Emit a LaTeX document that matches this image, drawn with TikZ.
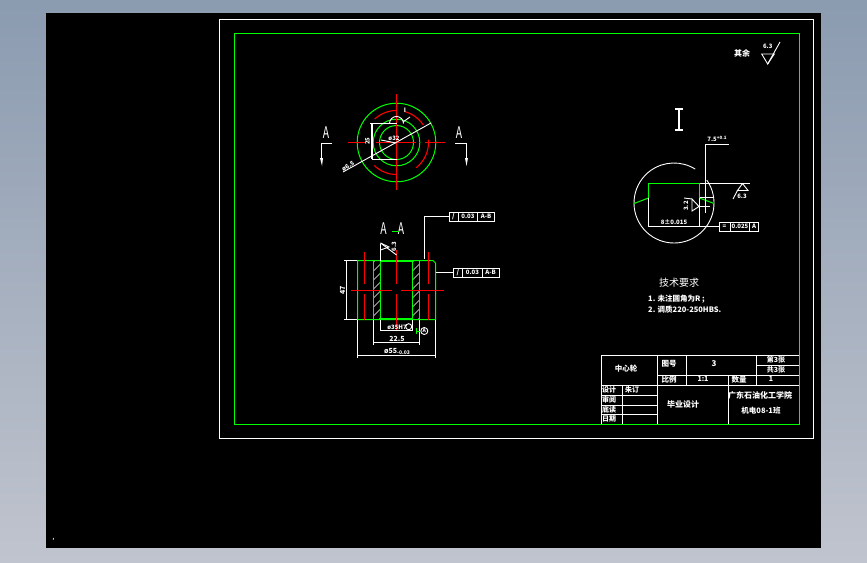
\documentclass[tikz,border=0pt]{standalone}
\usepackage{fontspec}
\setmainfont{Liberation Sans}
\newfontfamily\cjk{Noto Sans CJK SC}
\usetikzlibrary{positioning}
\definecolor{cadgreen}{RGB}{0,255,0}
\definecolor{cadred}{RGB}{255,0,0}
\definecolor{wintop}{RGB}{139,155,176}
\definecolor{winbot}{RGB}{192,196,206}
\tikzset{
  wline/.style={white,line width=0.9pt},
  gline/.style={cadgreen,line width=1pt},
  rline/.style={cadred,line width=1.1pt},
  txt/.style={white,inner sep=0pt,font=\cjk\fontsize{#1}{#1}\selectfont},
  txt/.default=8,
  dimtxt/.style={white,inner sep=0pt,font=\cjk\bfseries\fontsize{#1}{#1}\selectfont},
  dimtxt/.default=6,
  secletter/.style={white,inner sep=0pt,xscale=0.65,font=\cjk\fontsize{16}{16}\selectfont},
  fcfbox/.style={draw,wline,fill=black,minimum height=9,inner sep=0pt}
}
\begin{document}
\begin{tikzpicture}[x=1pt,y=-1pt]
  \useasboundingbox (0,0) rectangle (867,562);
  \shade[top color=wintop,bottom color=winbot] (0,0) rectangle (867,562);
  \fill[black] (46,13) rectangle (821,548);
  \draw[white,line width=1pt] (219.5,19.5) rectangle (813.5,438.5);
  \draw[gline] (234.5,33.5) rectangle (799.5,424.5);
  \node[dimtxt=5] (corner) at (53.5,540) {,};

  % top view
  \draw[gline] (396.5,142.5) circle (39.3);
  \draw[gline] (396.5,142.5) circle (23.3);
  \draw[gline] (396.5,142.5) circle (17);
  \draw[rline] (396.5,142.5) ++(134:32) arc (134:90:32);
  \draw[rline] (396.5,142.5) ++(52:32) arc (52:-5:32);
  \draw[rline] (396.5,142.5) ++(-33:32) arc (-33:-75:32);
  \draw[rline] (396.5,142.5) ++(-90:32) arc (-90:-133:32);
  \draw[rline] (396.5,94) -- (396.5,190);
  \draw[rline] (348,142.5) -- (365,142.5);
  \draw[rline] (376,142.5) -- (416,142.5);
  \draw[rline] (425,142.5) -- (445,142.5);
  \draw[wline] (370,123.5) -- (397,123.5) (372,159.5) -- (397,159.5);
  \draw[wline,line width=1.4pt] (372,123) -- (372,159);
  \draw[wline] (396.5,123.5) ++(180:7) arc (180:360:7);
  \draw[wline] (403,122) -- (410,117);
  \draw[wline] (343,172) -- (431,123);
  \draw[wline] (381,140) -- (396,143);
  \node[dimtxt=6] (lblI) at (405,110) {I};
  \node[dimtxt=6,rotate=90] (dimh) at (367.5,141) {25};
  \node[dimtxt=6] (dimd) at (394,138) {ø32};
  \node[dimtxt=6,rotate=30] (dimo) at (348,166) {ø6.5};

  % section arrows
  \node[secletter] (secL) at (326,133) {A};
  \node[secletter] (secR) at (459,133) {A};
  \draw[wline] (332,143.5) -- (321.5,143.5) -- (321.5,160);
  \draw[wline] (455,143.5) -- (466.5,143.5) -- (466.5,160);
  \fill[white] (320,158) -- (323,158) -- (322,166) -- cycle;
  \fill[white] (465,158) -- (468,158) -- (466.5,166) -- cycle;

  % section view
  \node[secletter] (titleL) at (383.5,229) {A};
  \node[secletter] (titleR) at (401,229) {A};
  \draw[gline] (392,231.5) -- (398.5,231.5);
  \begin{scope}
    \clip (373.5,261) rectangle (380.5,319);
    \foreach \y in {262,271,...,334} {
      \draw[white,line width=0.6pt] (373.5,\y) -- (380.5,\y-7);
    }
  \end{scope}
  \begin{scope}
    \clip (412.5,261) rectangle (419.5,319);
    \foreach \y in {262,271,...,334} {
      \draw[white,line width=0.6pt] (412.5,\y) -- (419.5,\y-7);
    }
  \end{scope}
  \draw[gline] (357.5,260.5) -- (433,260.5) -- (435.5,263) -- (435.5,319.5) -- (357.5,319.5) -- cycle;
  \draw[gline] (373.5,261) -- (373.5,319.5) (380.5,261) -- (380.5,319.5);
  \draw[gline] (412.5,261) -- (412.5,319.5) (419.5,261) -- (419.5,319.5);
  \draw[gline,line width=1.8pt] (380.5,261) -- (412.5,261) (380.5,319) -- (412.5,319);
  \draw[rline] (351,290.5) -- (392,290.5) (401,290.5) -- (444,290.5);
  \draw[rline] (364.5,252) -- (364.5,284) (364.5,294) -- (364.5,320);
  \draw[rline] (428.5,252) -- (428.5,284) (428.5,294) -- (428.5,320);
  \draw[rline] (396.5,250) -- (396.5,284) (396.5,294) -- (396.5,330);
  % section dimensions
  \draw[wline] (344,260.5) -- (357,260.5) (344,319.5) -- (357,319.5);
  \draw[wline] (346.5,261) -- (346.5,319);
  \node[dimtxt=7,rotate=90] (dim47) at (342.6,290) {47};
  \draw[wline] (373.5,320) -- (373.5,345) (419.5,320) -- (419.5,345);
  \draw[wline] (373.5,342.5) -- (419.5,342.5);
  \node[dimtxt=7] (dim225) at (397,339) {22.5};
  \draw[wline] (357.5,320) -- (357.5,358) (435.5,320) -- (435.5,358);
  \draw[wline] (357.5,355.5) -- (435.5,355.5);
  \node[dimtxt=7] (dim55) at (397,351.5) {ø55\raisebox{-1pt}{\fontsize{5}{5}\selectfont-0.03}};
  \draw[wline] (380.5,320) -- (380.5,331) (412.5,320) -- (412.5,331);
  \draw[wline] (380.5,330.5) -- (412.5,330.5);
  \node[dimtxt=6] (dim35) at (397,327) {ø35H7};
  \draw[wline] (408.7,326.7) circle (3);
  \draw[gline] (416,331) -- (420,331) (416,328) -- (416,334);
  \draw[wline] (424.3,331) circle (3.5);
  \node[dimtxt=5] (datumA) at (424.3,331) {A};
  % finish mark, section
  \draw[wline] (380.5,244) -- (380.5,261);
  \draw[wline] (380.5,243) -- (389,247) -- (380.5,250);
  \draw[wline] (380.5,243) -- (396.5,255);
  \node[dimtxt=6,rotate=90] (rough) at (394,246.5) {6.3};
  % tolerance frames
  \coordinate (lead1) at (424.5,259);
  \coordinate (lead2) at (436,272.5);
  \node[fcfbox,minimum width=45.5] (frameA) at (471.7,216.5) {};
  \draw[wline] (458.5,212) -- (458.5,221) (477.5,212) -- (477.5,221);
  \node[dimtxt=7] (frameAa) at (453.5,216.5) {/};
  \node[dimtxt=6] (frameAb) at (468,216.5) {0.03};
  \node[dimtxt=6] (frameAc) at (486,216.5) {A-B};
  \draw[wline] (frameA.west) -| (lead1);
  \node[fcfbox,minimum width=45.5] (frameB) at (476.2,272.5) {};
  \draw[wline] (462.5,268) -- (462.5,277) (482,268) -- (482,277);
  \node[dimtxt=7] (frameBa) at (458,272.5) {/};
  \node[dimtxt=6] (frameBb) at (472.5,272.5) {0.03};
  \node[dimtxt=6] (frameBc) at (490.5,272.5) {A-B};
  \draw[wline] (frameB.west) -- (lead2);

  % detail view
  \draw[wline,line width=1.2pt] (675,109) -- (683,109) (679,109) -- (679,130) (675,130) -- (683,130);
  \draw[wline] (674,203) ++(-35:40) arc (-35:302:40);
  \draw[gline] (648.5,198) -- (648.5,183.5) -- (699.5,183.5) -- (699.5,197.5);
  \draw[gline] (648.5,198) -- (634,203.5);
  \draw[gline] (699.5,198) -- (714,203.5);
  \draw[wline] (648.5,198) -- (648.5,226.5) (699.5,198) -- (699.5,226.5);
  \draw[wline] (648.5,226.5) -- (699.5,226.5);
  \draw[wline] (699.5,183.5) -- (750,183.5);
  \draw[wline] (705.5,212.5) -- (705.5,144) -- (729,144);
  \draw[wline] (699.5,197.5) -- (714,197.5);
  \draw[wline] (699.5,206) -- (710,206);
  \node[dimtxt=6] (dimw) at (717,139) {7.5\raisebox{2pt}{\fontsize{4.5}{4.5}\selectfont+0.1}};
  \node[dimtxt=6] (dimb) at (674,222.5) {8±0.015};
  \node[dimtxt=6,rotate=90] (rough2) at (686,206) {3.2};
  \draw[wline] (692,199) -- (692,211) -- (699,206.5) -- cycle;
  \draw[wline] (684,198) -- (692,199);
  \draw[wline] (737.5,190.5) -- (748,190.5) -- (742.5,183.5) -- cycle;
  \draw[wline] (737.5,190.5) -- (733,199);
  \node[dimtxt=6] (rough3) at (742,196) {6.3};
  \node[fcfbox,minimum width=39] (frameC) at (738.5,226.5) {};
  \draw[wline] (699.5,226.5) -- (frameC.west);
  \draw[wline] (730.5,222) -- (730.5,231) (749.5,222) -- (749.5,231);
  \node[dimtxt=6] (frameCa) at (724.5,226.5) {=};
  \node[dimtxt=6] (frameCb) at (740,226.5) {0.025};
  \node[dimtxt=6] (frameCc) at (754,226.5) {A};

  % notes
  \node[txt=10] (noteT) at (679,283) {技术要求};
  \node[dimtxt=7.5,anchor=west] (noteA) at (648,299) {1. 未注圆角为R ;};
  \node[dimtxt=7.5,anchor=west] (noteB) at (648,310) {2. 调质220-250HBS.};
  \node[dimtxt=8] (finish) at (742,53) {其余};
  \draw[wline] (761.7,54) -- (774.3,54) -- (767.7,64) -- cycle;
  \draw[wline] (767.7,64) -- (780,42);
  \node[dimtxt=6] (finishv) at (767.7,46) {6.3};

  % title block
  \draw[wline] (601.5,355.5) rectangle (799.5,424.5);
  \draw[wline] (756.5,365.5) -- (799,365.5);
  \draw[wline] (657,375.5) -- (799,375.5);
  \draw[wline] (601.5,385.5) -- (799,385.5);
  \draw[wline] (601.5,395.5) -- (657,395.5);
  \draw[wline] (601.5,405.5) -- (657,405.5);
  \draw[wline] (601.5,414.5) -- (657,414.5);
  \draw[wline] (657.5,355.5) -- (657.5,424);
  \draw[wline] (686.5,355.5) -- (686.5,385.5);
  \draw[wline] (728.5,375.5) -- (728.5,424);
  \draw[wline] (756.5,355.5) -- (756.5,385.5);
  \draw[wline] (622.5,385.5) -- (622.5,424);
  \draw[gline] (601,424.5) -- (799.5,424.5);
  \draw[gline] (799.5,355) -- (799.5,424.5);
  \node[dimtxt=7.5] (tPart) at (626,369) {中心轮};
  \node[dimtxt=7.5] (tNoL) at (669,364) {图号};
  \node[dimtxt=8] (tNo) at (714,364) {3};
  \node[dimtxt=7] (tSh1) at (776,359.5) {第3张};
  \node[dimtxt=7] (tSh2) at (776,369.5) {共3张};
  \node[dimtxt=7.5] (tScL) at (669,379.5) {比例};
  \node[dimtxt=7] (tSc) at (703,379) {1:1};
  \node[dimtxt=7.5] (tQtL) at (739,380) {数量};
  \node[dimtxt=7] (tQt) at (771,379) {1};
  \node[dimtxt=7] (tR1) at (609,390) {设计};
  \node[dimtxt=7] (tR1b) at (632,390) {朱订};
  \node[dimtxt=7] (tR2) at (609,400) {审阅};
  \node[dimtxt=7] (tR3) at (609,409.5) {底读};
  \node[dimtxt=7] (tR4) at (609,419) {日期};
  \node[dimtxt=8] (tThesis) at (683,404) {毕业设计};
  \node[dimtxt=8] (tSchool) at (760,395) {广东石油化工学院};
  \node[dimtxt=7.5] (tClass) at (761,411) {机电08-1班};
\end{tikzpicture}
\end{document}
